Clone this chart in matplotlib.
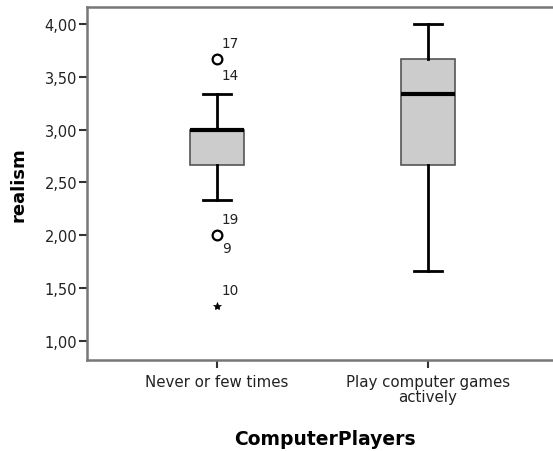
import matplotlib
matplotlib.use("Agg")
import matplotlib.pyplot as plt

plt.rcParams['font.family'] = ['DejaVu Sans']

categories = ["Never or few times", "Play computer games\nactively"]
whislo = [2.333, 1.667]
q1 = [2.667, 2.667]
med = [3.0, 3.333]
q3 = [3.0, 3.667]
whishi = [3.333, 4.0]
outlier_vals = [[3.667, 2.0], []]
extreme_vals = [[1.333], []]
outlier_labels = [[("17", 3.667, 16), ("14", 3.667, -16), ("19", 2.0, 16), ("9", 2.0, -13)], []]
extreme_labels = [[("10", 1.333, 16)], []]
yticks = [1.0, 1.5, 2.0, 2.5, 3.0, 3.5, 4.0]
ytick_labels = ["1,00", "1,50", "2,00", "2,50", "3,00", "3,50", "4,00"]

fig = plt.figure(figsize=(5.53, 4.52), dpi=100)
ax = fig.add_axes([87/553, 91/452, (562-87)/553, (361-8)/452])

stats = []
for i in range(len(categories)):
    stats.append(dict(med=med[i], q1=q1[i], q3=q3[i], whislo=whislo[i],
                      whishi=whishi[i], fliers=[], label=categories[i]))
pos = list(range(1, len(categories) + 1))
ax.bxp(stats, positions=pos, widths=0.26, capwidths=0.13, patch_artist=True,
       showfliers=False,
       boxprops=dict(facecolor="#cccccc", edgecolor="#555555", linewidth=1.2),
       medianprops=dict(color="black", linewidth=3),
       whiskerprops=dict(color="black", linewidth=2),
       capprops=dict(color="black", linewidth=2))

for i, p in enumerate(pos):
    if outlier_vals[i]:
        ax.plot([p] * len(outlier_vals[i]), outlier_vals[i], linestyle="none",
                marker="o", markersize=7, markerfacecolor="none",
                markeredgecolor="black", markeredgewidth=1.6, zorder=5)
    if extreme_vals[i]:
        ax.plot([p] * len(extreme_vals[i]), extreme_vals[i], linestyle="none",
                marker="*", markersize=6, color="black", markeredgewidth=0.5, zorder=5)
    for lab, v, dy in outlier_labels[i] + extreme_labels[i]:
        ax.annotate(lab, xy=(p, v), xytext=(5, dy), textcoords="offset pixels",
                    ha="left", va="center", fontsize=9.8, color="#222222")

ax.set_xlim(0.384, 2.616 + 4/211)
ax.set_ylim(0.82, 4.161)
ax.set_xticks(pos)
ax.set_xticklabels(categories, fontsize=10.8, linespacing=1.0)
ax.set_yticks(yticks)
ax.set_yticklabels(ytick_labels, fontsize=10.5)
ax.tick_params(axis="both", direction="out", length=6, width=1.5, color="#333333",
               labelcolor="#222222")
ax.tick_params(axis="y", pad=1)
ax.tick_params(axis="x", pad=4)
for s in ax.spines.values():
    s.set_color("#777777")
    s.set_linewidth(1.8)
ax.spines["right"].set_visible(False)

ax.set_ylabel("realism", fontsize=13, fontweight="bold", labelpad=12)
ax.set_xlabel("ComputerPlayers", fontsize=13.5, fontweight="bold", labelpad=18)

fig.savefig("out.png", dpi=100)
